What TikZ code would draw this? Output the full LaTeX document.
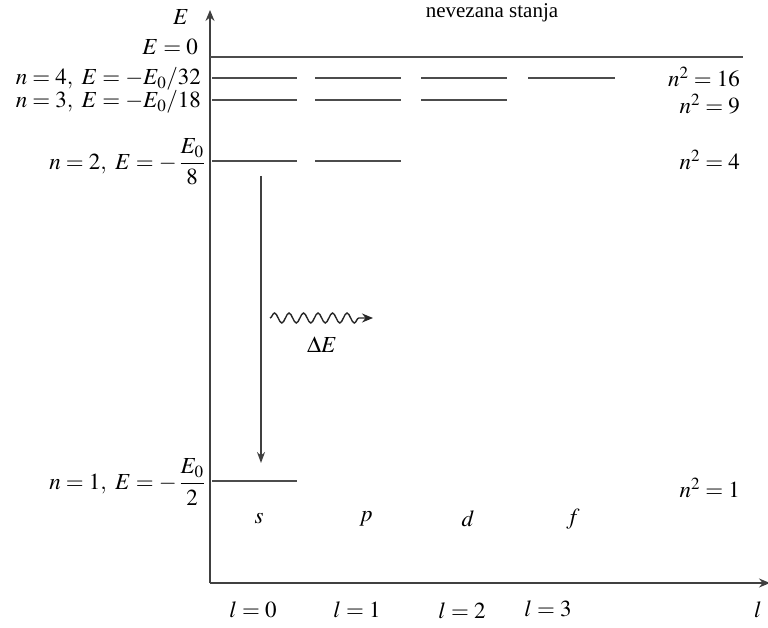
\documentclass[tikz,border=0pt]{standalone}
\usepackage{amsmath}
\usepackage{mathptmx}
\usepackage[no-math]{fontspec}
\setmainfont{Liberation Serif}
\usetikzlibrary{arrows.meta,decorations.pathmorphing}
\begin{document}
\begin{tikzpicture}[x=1pt,y=-1pt,
  ln/.style={draw=black!75,line width=1.5pt},
  lvl/.style={draw=black!70,line width=1.5pt},
  lab/.style={inner sep=0pt,font=\fontsize{23}{27}\selectfont},
  ax/.style={ln,-{Stealth[length=11pt,width=9pt]}}]
\useasboundingbox (0,0) rectangle (768,628);
% axes
\coordinate (O) at (210,583);
\coordinate (Etop) at (210,10);
\coordinate (Lend) at (770,583);
\draw[ax] (O) -- (Etop);
\draw[ax] (O) -- (Lend);
\node[lab] (Elab) at (181,17) {$E$};
\node[lab,font=\rmfamily\fontsize{21}{24}\selectfont] (top) at (492,13) {nevezana stanja};
% E = 0
\coordinate (z0) at (210,57);
\coordinate (z1) at (743,57);
\draw[lvl] (z0) -- (z1);
\node[lab,anchor=east] (e0) at (198,47) {$E=0$};
% n=4
\foreach \a/\b [count=\i] in {212/297,315/401,421/507,528/615}{
  \coordinate (a4\i) at (\a,78); \coordinate (b4\i) at (\b,78);
  \draw[lvl] (a4\i) -- (b4\i);}
\node[lab,anchor=east] (n4) at (201,79) {$n=4,\ E=-E_0/32$};
\node[lab,anchor=east] (q4) at (740,77) {$n^2=16$};
% n=3
\foreach \a/\b [count=\i] in {212/297,315/401,421/507}{
  \coordinate (a3\i) at (\a,100); \coordinate (b3\i) at (\b,100);
  \draw[lvl] (a3\i) -- (b3\i);}
\node[lab,anchor=east] (n3) at (201,102) {$n=3,\ E=-E_0/18$};
\node[lab,anchor=east] (q3) at (740,104) {$n^2=9$};
% n=2
\foreach \a/\b [count=\i] in {212/297,315/401}{
  \coordinate (a2\i) at (\a,161); \coordinate (b2\i) at (\b,161);
  \draw[lvl] (a2\i) -- (b2\i);}
\node[lab,anchor=east] (n2) at (205,162) {$n=2,\ E=-\,\dfrac{E_0}{8}$};
\node[lab,anchor=east] (q2) at (740,160) {$n^2=4$};
% n=1
\coordinate (a11) at (212,481); \coordinate (b11) at (297,481);
\draw[lvl] (a11) -- (b11);
\node[lab,anchor=east] (n1) at (205,482) {$n=1,\ E=-\,\dfrac{E_0}{2}$};
\node[lab,anchor=east] (q1) at (740,488) {$n^2=1$};
% transition
\coordinate (t0) at (261,176);
\coordinate (t1) at (261,463);
\draw[ln,-{Stealth[length=11pt,width=8pt]}] (t0) -- (t1);
\coordinate (w0) at (270,318);
\coordinate (w1) at (373,318);
\draw[line width=1.4pt,black!85,-{Stealth[length=11pt,width=9pt]},
  decorate,decoration={snake,amplitude=5pt,segment length=14.5pt,post length=10pt}] (w0) -- (w1);
\node[lab] (dE) at (322,345) {$\Delta E$};
% orbital letters
\node[lab] (s) at (259,519) {$s$};
\node[lab] (p) at (366,519) {$p$};
\node[lab] (d) at (468,519) {$d$};
\node[lab] (f) at (573,519) {$f$};
% l labels
\node[lab] (l0) at (253,610) {$l=0$};
\node[lab] (l1) at (357,610) {$l=1$};
\node[lab] (l2) at (462,611) {$l=2$};
\node[lab] (l3) at (548,609) {$l=3$};
\node[lab] (l) at (758,610) {$l$};
\end{tikzpicture}
\end{document}
